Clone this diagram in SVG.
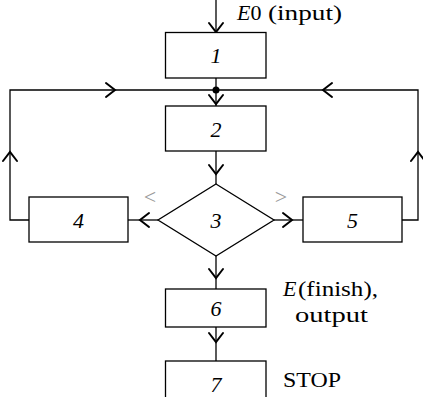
<svg xmlns="http://www.w3.org/2000/svg" width="423" height="397" viewBox="0 0 423 397">
<style>
.box{fill:#fff;stroke:#000;stroke-width:1.3}
.ln{fill:none;stroke:#000;stroke-width:1.3}
.ah{fill:none;stroke:#000;stroke-width:2;stroke-linecap:round}
.num{font-size:22px;font-style:italic;text-anchor:middle}
.lbl{font-size:22px}
.cmp{font-size:22px;fill:#999;text-anchor:middle}
</style>
<g id="connectors">
<path class="ln" d="M216,0 V32.5"/>
<path class="ln" d="M216,78 V106"/>
<path class="ln" d="M216,151 V184"/>
<path class="ln" d="M158,220 H128"/>
<path class="ln" d="M274,220 H303"/>
<path class="ln" d="M216,256 V289"/>
<path class="ln" d="M216,327 V361"/>
<path class="ln" d="M29,220 H10 V90 H418 V220 H402"/>
<circle cx="216" cy="90" r="3.5" fill="#000"/>
<path class="ah" d="M209,23 L216,32 L223,23"/>
<path class="ah" d="M209,95 L216,104 L223,95"/>
<path class="ah" d="M209,165 L216,174 L223,165"/>
<path class="ah" d="M149,213 L140,220 L149,227"/>
<path class="ah" d="M283,213 L292,220 L283,227"/>
<path class="ah" d="M209,269 L216,278 L223,269"/>
<path class="ah" d="M209,333 L216,342 L223,333"/>
<path class="ah" d="M3,161 L10,152 L17,161"/>
<path class="ah" d="M106,83 L115,90 L106,97"/>
<path class="ah" d="M411,161 L418,152 L425,161"/>
<path class="ah" d="M332,83 L323,90 L332,97"/>
</g>
<g font-family="Liberation Serif" fill="#000">
<g id="node1">
<rect class="box" x="165.5" y="32.5" width="100.5" height="45.5"/>
<text class="num" x="216" y="63">1</text>
</g>
<g id="node2">
<rect class="box" x="165.5" y="106" width="100.5" height="45"/>
<text class="num" x="216" y="136.5">2</text>
</g>
<g id="node3">
<path class="box" d="M216,184 L274,220 L216,256 L158,220 Z"/>
<text class="num" x="216" y="228">3</text>
</g>
<g id="node4">
<rect class="box" x="29" y="197" width="99" height="45"/>
<text class="num" x="78.5" y="227.5">4</text>
</g>
<g id="node5">
<rect class="box" x="303" y="197" width="99" height="45"/>
<text class="num" x="352.5" y="227.5">5</text>
</g>
<g id="node6">
<rect class="box" x="165.5" y="289" width="100.5" height="38"/>
<text class="num" x="216" y="315.5">6</text>
</g>
<g id="node7">
<rect class="box" x="165.5" y="361" width="100.5" height="45"/>
<text class="num" x="216" y="392">7</text>
</g>
<g id="labels">
<text class="lbl" x="237" y="20"><tspan font-style="italic">E</tspan>0</text>
<text class="lbl" x="268" y="20" textLength="74" lengthAdjust="spacingAndGlyphs">(input)</text>
<text class="lbl" x="283" y="296" font-style="italic">E</text>
<text class="lbl" x="298" y="296" textLength="80" lengthAdjust="spacingAndGlyphs">(finish),</text>
<text class="lbl" x="295" y="322" textLength="73" lengthAdjust="spacingAndGlyphs">output</text>
<text class="lbl" x="283" y="387" textLength="58" lengthAdjust="spacingAndGlyphs">STOP</text>
<text class="cmp" x="150" y="204">&lt;</text>
<text class="cmp" x="281" y="204">&gt;</text>
</g>
</g>
</svg>
